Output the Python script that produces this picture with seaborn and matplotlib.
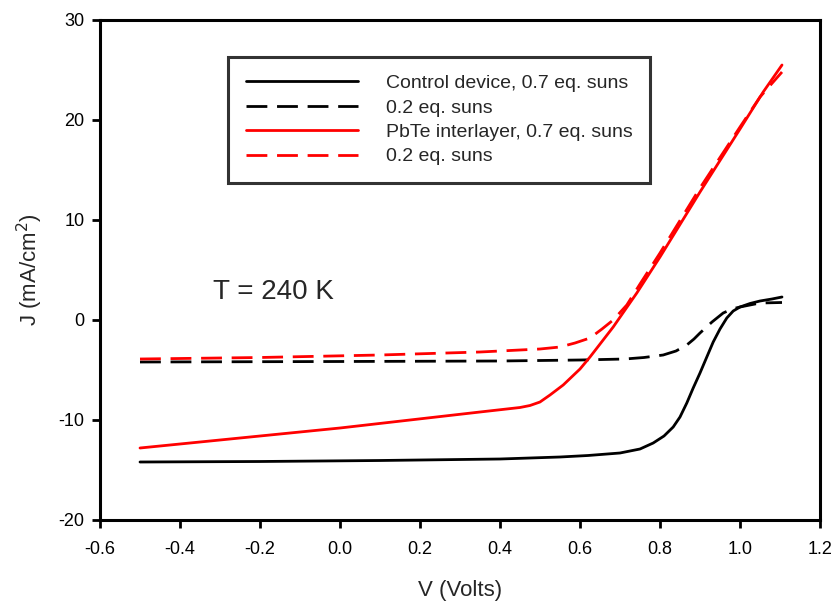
import numpy as np
import pandas as pd
import seaborn as sns
import matplotlib
matplotlib.use("Agg")
import matplotlib.pyplot as plt

# curvas J-V
v_ctrl_07 = [-0.5, -0.2, 0.1, 0.4, 0.55, 0.62, 0.7, 0.75, 0.783, 0.81, 0.833, 0.85, 0.867,
             0.883, 0.9, 0.917, 0.933, 0.95, 0.967, 0.983, 1.0, 1.025, 1.05, 1.08, 1.105]
j_ctrl_07 = [-14.2, -14.15, -14.05, -13.9, -13.7, -13.55, -13.3, -12.9, -12.3, -11.6, -10.7, -9.7,
             -8.3, -6.8, -5.3, -3.7, -2.2, -0.9, 0.2, 0.9, 1.3, 1.65, 1.9, 2.1, 2.3]

v_ctrl_02 = [-0.5, 0.0, 0.4, 0.6, 0.7125, 0.76, 0.808, 0.84, 0.867, 0.885, 0.9, 0.93, 0.958,
             0.98, 1.0, 1.05, 1.105]
j_ctrl_02 = [-4.2, -4.15, -4.1, -4.0, -3.9, -3.75, -3.5, -3.1, -2.5, -1.9, -1.3, -0.2, 0.7,
             1.1, 1.3, 1.7, 1.75]

v_pbte_07 = [-0.5, 0.0, 0.35, 0.45, 0.475, 0.5, 0.525, 0.558, 0.6, 0.625, 0.683, 0.742,
             0.8, 0.9, 1.0, 1.058, 1.105]
j_pbte_07 = [-12.8, -10.8, -9.2, -8.75, -8.55, -8.2, -7.5, -6.5, -4.9, -3.7, -0.7, 2.7,
             6.3, 12.8, 19.1, 22.8, 25.5]

v_pbte_02 = [-0.5, -0.2, 0.1, 0.35, 0.5, 0.55, 0.5875, 0.625, 0.655, 0.683, 0.717, 0.75, 0.8,
             0.9, 1.0, 1.05, 1.105]
j_pbte_02 = [-3.9, -3.75, -3.5, -3.2, -2.9, -2.7, -2.3, -1.8, -0.9, 0.0, 1.5, 3.6, 6.7,
             13.2, 19.3, 22.3, 24.8]

labels = ["Control device, 0.7 eq. suns", "0.2 eq. suns",
          "PbTe interlayer, 0.7 eq. suns", "0.2 eq. suns"]

sns.set_style("white")
plt.rcParams["font.family"] = ["Liberation Sans", "DejaVu Sans"]
plt.rcParams["axes.unicode_minus"] = False

fig = plt.figure(figsize=(8.32, 6.05), dpi=100)
ax = fig.add_axes([100 / 832, 85 / 605, 720 / 832, 500 / 605])

dash = (0, (7.5, 3.5))
series = [(v_ctrl_07, j_ctrl_07, "black", "-"),
          (v_ctrl_02, j_ctrl_02, "black", dash),
          (v_pbte_07, j_pbte_07, "red", "-"),
          (v_pbte_02, j_pbte_02, "red", dash)]

for (v, j, c, ls), lab in zip(series, labels):
    df = pd.DataFrame({"V": v, "J": j})
    sns.lineplot(data=df, x="V", y="J", ax=ax, color=c, linewidth=2,
                 linestyle=ls, label=lab, sort=False)

ax.set_xlim(-0.6, 1.2)
ax.set_ylim(-20, 30)
ax.set_xticks(np.arange(-0.6, 1.21, 0.2))
ax.set_xticklabels(["-0.6", "-0.4", "-0.2", "0.0", "0.2", "0.4", "0.6", "0.8", "1.0", "1.2"])
ax.set_yticks(np.arange(-20, 31, 10))
ax.tick_params(axis="both", direction="out", length=6, width=2, labelsize=13,
               bottom=True, left=True, colors="black")
ax.tick_params(axis="x", pad=9)
ax.tick_params(axis="y", pad=5)
ax.set_xlabel("V (Volts)", fontsize=16, labelpad=16)
ax.set_ylabel("J (mA/cm$^2$)", fontsize=16, labelpad=10)
for s in ax.spines.values():
    s.set_color("black")
    s.set_linewidth(2.2)

ax.text(-0.1675, 2.8, "T = 240 K", fontsize=20, ha="center", va="center")

leg = ax.legend(loc="upper left", bbox_to_anchor=(128 / 720, 1 - 37 / 500), fontsize=14,
                handlelength=5.8, handletextpad=1.4, borderpad=0.9, labelspacing=0.35,
                borderaxespad=0, frameon=True, fancybox=False, edgecolor="black")
leg.get_frame().set_linewidth(2.2)

fig.savefig("out.png", dpi=100)
